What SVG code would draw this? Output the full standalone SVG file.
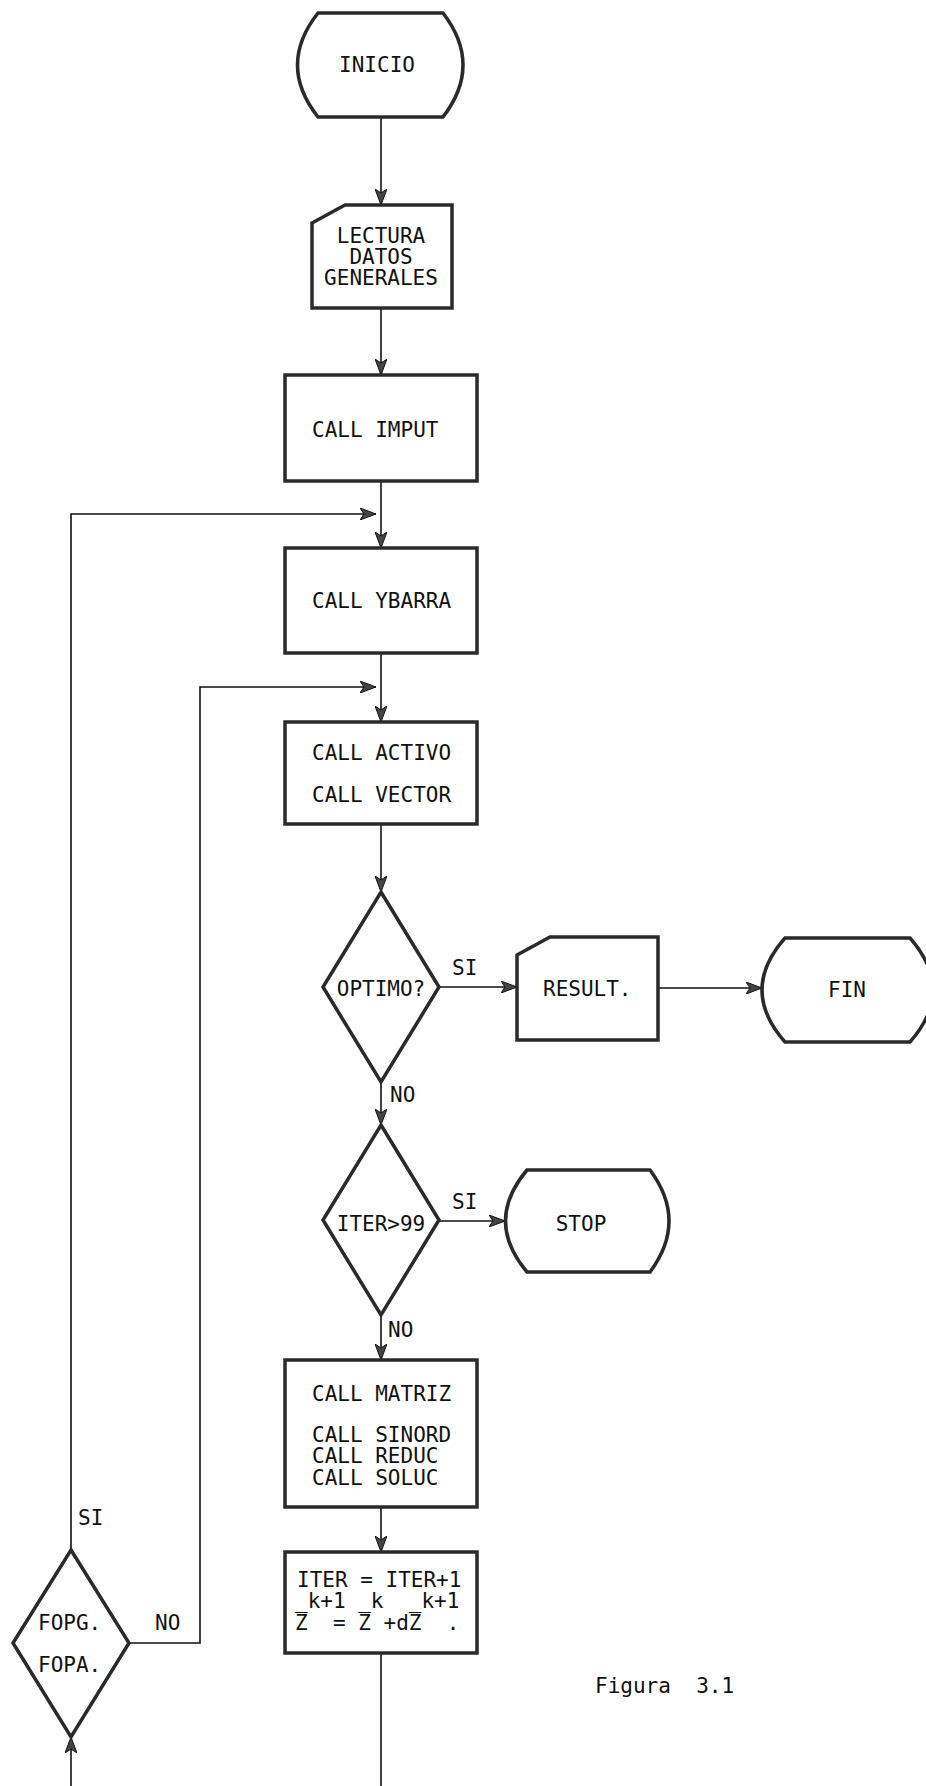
<svg xmlns="http://www.w3.org/2000/svg" width="926" height="1786" viewBox="0 0 926 1786">
<style>
.shape{fill:#fff;stroke:#2a2a2a;stroke-width:3.5;stroke-linejoin:miter}
.conn{fill:none;stroke:#111;stroke-width:1.6}
.t{font-family:"DejaVu Sans Mono","Liberation Mono",monospace;font-size:21px;fill:#111}
.m{text-anchor:middle}
</style>
<defs>
<marker id="ah" viewBox="0 0 16 12" markerWidth="16" markerHeight="12" refX="16" refY="6" orient="auto" markerUnits="userSpaceOnUse">
<path d="M0,0 L16,6 L0,12 L4,6 Z" fill="#444" stroke="#111" stroke-width="1"/>
</marker>
</defs>
<rect width="926" height="1786" fill="#fff"/>
<g id="connectors">
<path class="conn" d="M381,117 V205" marker-end="url(#ah)"/>
<path class="conn" d="M381,308 V375" marker-end="url(#ah)"/>
<path class="conn" d="M381,481 V548" marker-end="url(#ah)"/>
<path class="conn" d="M381,653 V722" marker-end="url(#ah)"/>
<path class="conn" d="M381,824 V892" marker-end="url(#ah)"/>
<path class="conn" d="M439,987 H517" marker-end="url(#ah)"/>
<path class="conn" d="M658,988 H762" marker-end="url(#ah)"/>
<path class="conn" d="M381,1082 V1125" marker-end="url(#ah)"/>
<path class="conn" d="M439,1221 H505" marker-end="url(#ah)"/>
<path class="conn" d="M381,1315 V1360" marker-end="url(#ah)"/>
<path class="conn" d="M381,1507 V1552" marker-end="url(#ah)"/>
<path class="conn" d="M381,1653 V1786"/>
<path class="conn" d="M71,1786 V1737" marker-end="url(#ah)"/>
<path class="conn" d="M71,1550 V514 H376" marker-end="url(#ah)"/>
<path class="conn" d="M129,1643 H200 V687 H376" marker-end="url(#ah)"/>
<text class="t" x="452" y="975">SI</text>
<text class="t" x="390" y="1102">NO</text>
<text class="t" x="452" y="1209">SI</text>
<text class="t" x="388" y="1337">NO</text>
<text class="t" x="78" y="1525">SI</text>
<text class="t" x="155" y="1630">NO</text>
</g>
<g id="inicio">
<path class="shape" d="M318,13 H443 Q483,65 443,117 H318 Q277,65 318,13 Z"/>
<text class="t m" x="377" y="72">INICIO</text>
</g>
<g id="lectura">
<path class="shape" d="M345,205 H452 V308 H312 V223 Z"/>
<text class="t m" x="381" y="243">LECTURA</text>
<text class="t m" x="381" y="264">DATOS</text>
<text class="t m" x="381" y="285">GENERALES</text>
</g>
<g id="impút">
<rect class="shape" x="285" y="375" width="192" height="106"/>
<text class="t" x="312" y="437">CALL IMPUT</text>
</g>
<g id="ybarra">
<rect class="shape" x="285" y="548" width="192" height="105"/>
<text class="t" x="312" y="608">CALL YBARRA</text>
</g>
<g id="activo">
<rect class="shape" x="285" y="722" width="192" height="102"/>
<text class="t" x="312" y="760">CALL ACTIVO</text>
<text class="t" x="312" y="802">CALL VECTOR</text>
</g>
<g id="optimo">
<path class="shape" d="M381,892 L439,987 L381,1082 L323,987 Z"/>
<text class="t m" x="381" y="996">OPTIMO?</text>
</g>
<g id="result">
<path class="shape" d="M550,937 H658 V1040 H517 V955 Z"/>
<text class="t" x="543" y="996">RESULT.</text>
</g>
<g id="fin">
<path class="shape" d="M785,938 H910 Q956,990 910,1042 H785 Q739,990 785,938 Z"/>
<text class="t m" x="847" y="997">FIN</text>
</g>
<g id="iter99">
<path class="shape" d="M381,1125 L439,1220 L381,1315 L323,1220 Z"/>
<text class="t m" x="381" y="1231">ITER&gt;99</text>
</g>
<g id="stop">
<path class="shape" d="M527,1170 H650 Q688,1221 650,1272 H527 Q484,1221 527,1170 Z"/>
<text class="t m" x="581" y="1231">STOP</text>
</g>
<g id="matriz">
<rect class="shape" x="285" y="1360" width="192" height="147"/>
<text class="t" x="312" y="1401">CALL MATRIZ</text>
<text class="t" x="312" y="1442">CALL SINORD</text>
<text class="t" x="312" y="1463">CALL REDUC</text>
<text class="t" x="312" y="1485">CALL SOLUC</text>
</g>
<g id="iterbox">
<rect class="shape" x="285" y="1552" width="192" height="101"/>
<text class="t" x="297" y="1587" xml:space="preserve">ITER = ITER+1</text>
<text class="t" x="295" y="1608" xml:space="preserve">_k+1 _k  _k+1</text>
<text class="t" x="295" y="1630" xml:space="preserve">Z  = Z +dZ  .</text>
</g>
<g id="fopg">
<path class="shape" d="M71,1550 L129,1643 L71,1737 L13,1643 Z"/>
<text class="t" x="38" y="1630">FOPG.</text>
<text class="t" x="38" y="1672">FOPA.</text>
</g>
<g id="caption">
<text class="t" x="595" y="1693" xml:space="preserve">Figura  3.1</text>
</g>
</svg>
